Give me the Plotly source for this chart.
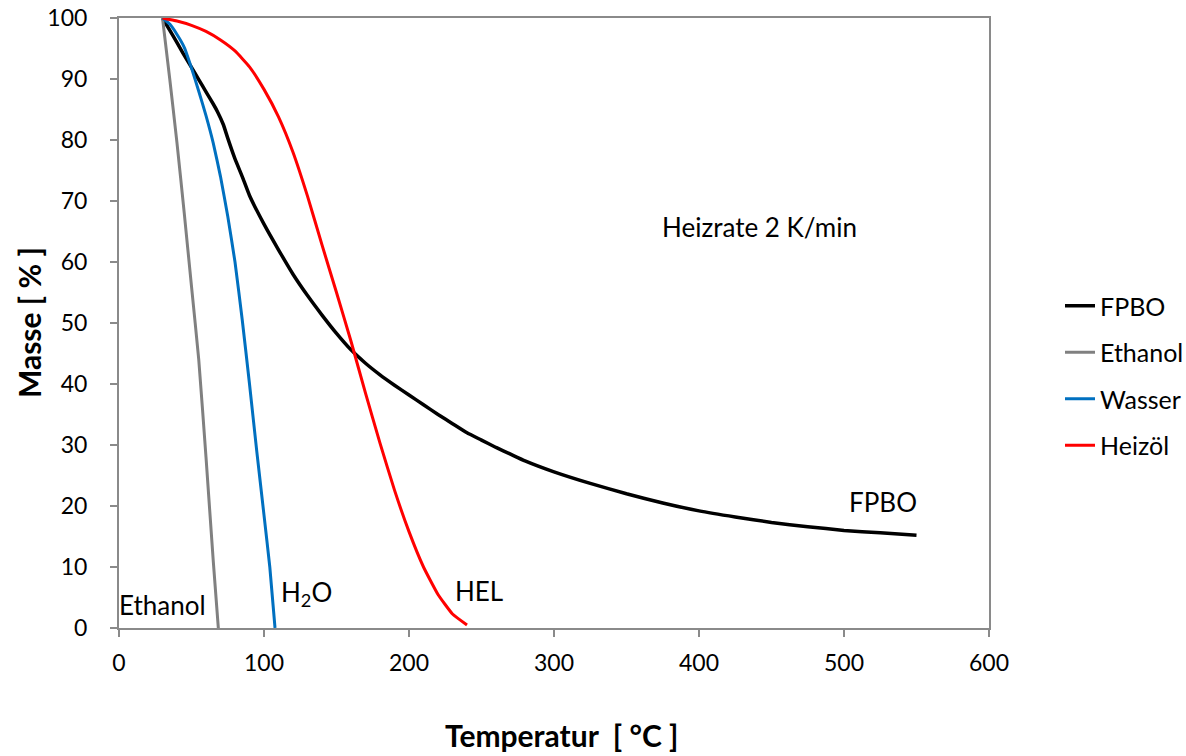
import plotly.graph_objects as go

# FPBO (black)
fpbo_T = [30, 37, 44, 50, 55, 60, 65, 68, 72, 75, 80, 85, 90, 100, 110, 120, 130, 140, 150, 160,
          170, 180, 190, 200, 210, 220, 230, 240, 250, 260, 270, 280, 300, 325, 350, 375, 400, 425,
          450, 475, 500, 525, 550]
fpbo_M = [100, 97.2, 94.3, 91.9, 89.9, 87.9, 85.9, 84.6, 82.5, 80.3, 76.9, 74, 70.9, 66.2, 62, 58,
          54.5, 51.3, 48.3, 45.6, 43.4, 41.5, 39.8, 38.2, 36.6, 35, 33.5, 32, 30.8, 29.6, 28.5, 27.4,
          25.6, 23.7, 22, 20.5, 19.2, 18.2, 17.3, 16.6, 16.0, 15.6, 15.2]

# Ethanol (grey)
eth_T = [30, 35, 40, 45, 50, 55, 60, 65, 68.5]
eth_M = [100, 90, 79.5, 68, 56, 44, 28, 11, 0]

# Wasser (blue)
h2o_T = [30, 35, 40, 45, 50, 55, 60, 65, 70, 75, 80, 85, 90, 95, 100, 104, 107.6]
h2o_M = [100, 99.0, 97.3, 95.2, 91.8, 88, 84, 79.5, 74, 67.5, 60, 50.5, 40, 29, 18.5, 10, 0]

# Heizöl (red)
hel_T = [30, 40, 50, 60, 70, 80, 90, 100, 110, 120, 130, 140, 150, 160, 170, 180, 190, 200, 210,
         220, 230, 240]
hel_M = [100, 99.5, 98.8, 97.8, 96.4, 94.6, 92, 88.3, 83.8, 78, 70.8, 62.8, 55, 47, 38.5, 30.3,
         22.6, 15.8, 10, 5.5, 2.3, 0.5]

series = [
    ("FPBO", fpbo_T, fpbo_M, "#000000", 3.5),
    ("Ethanol", eth_T, eth_M, "#808080", 3),
    ("Wasser", h2o_T, h2o_M, "#0070C0", 3),
    ("Heizöl", hel_T, hel_M, "#FF0000", 3),
]

# Annotations (text, x, y)
labels = [
    ("Heizrate 2 K/min", 442, 65.8),
    ("FPBO", 527, 20.6),
    ("Ethanol", 30, 3.8),
    ("H<sub>2</sub>O", 129, 5.6),
    ("HEL", 248, 6.0),
]

FONT = "Lato, 'Open Sans', sans-serif"

fig = go.Figure()
for name, xs, ys, col, w in series:
    fig.add_trace(go.Scatter(x=xs, y=ys, mode="lines", name=name, legendgroup=name,
                             line=dict(color=col, width=w, shape="spline", smoothing=0.4)))

for txt, x, y in labels:
    fig.add_annotation(x=x, y=y, text=txt, showarrow=False, xanchor="center", yanchor="middle",
                       font=dict(family=FONT, size=26, color="#000000"))

fig.add_annotation(xref="paper", yref="paper", x=(562 - 119) / 870, y=(628 - 735) / 610,
                   text="<b>Temperatur\u00a0\u00a0[ °C ]</b>", showarrow=False,
                   xanchor="center", yanchor="middle", font=dict(family=FONT, size=30, color="#000"))
fig.add_annotation(xref="paper", yref="paper", x=(29 - 119) / 870, y=0.5,
                   text="<b>Masse [ % ]</b>", showarrow=False, textangle=-90,
                   xanchor="center", yanchor="middle", font=dict(family=FONT, size=30, color="#000"))

axis_common = dict(showline=True, linecolor="#8a8a8a", linewidth=2, mirror=True,
                   ticks="outside", ticklen=7, tickcolor="#8a8a8a", tickwidth=1.5,
                   showgrid=False, zeroline=False, automargin=False,
                   tickfont=dict(family=FONT, size=23, color="#000000"))

fig.update_xaxes(range=[0, 600], dtick=100, tick0=0, ticklabelstandoff=6, **axis_common)
fig.update_yaxes(range=[0, 100], dtick=10, tick0=0, ticklabelstandoff=18, **axis_common)

fig.update_layout(
    width=1186, height=756,
    margin=dict(l=119, r=197, t=18, b=128),
    paper_bgcolor="white", plot_bgcolor="white",
    font=dict(family=FONT, size=23, color="#000"),
    legend=dict(xref="container", yref="container", x=1060 / 1186, y=(756 - 375.5) / 756,
                xanchor="left", yanchor="middle",
                font=dict(family=FONT, size=25, color="#000"),
                tracegroupgap=11, bgcolor="rgba(0,0,0,0)"),
    showlegend=True,
)

fig.write_html("out.html")
